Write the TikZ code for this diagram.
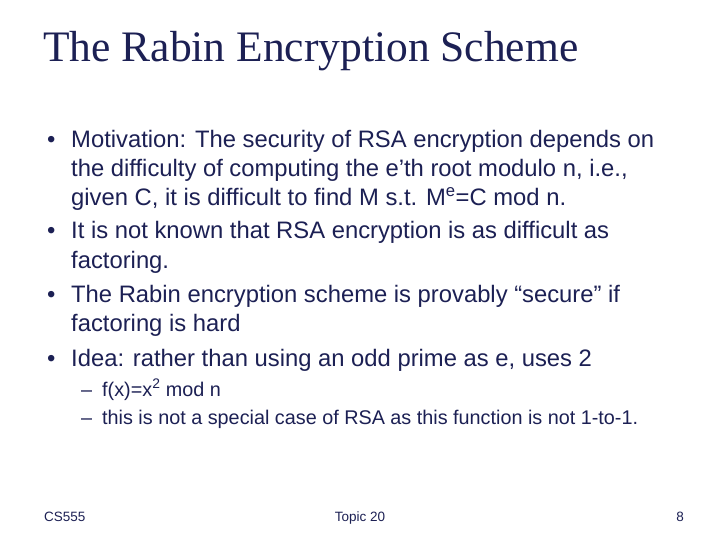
\documentclass[tikz,border=0pt]{standalone}
\usepackage{fontspec}
\setmainfont{Liberation Sans}
\newfontfamily\titlefont{Liberation Serif}
\definecolor{navy}{RGB}{28,32,84}
\begin{document}
\begin{tikzpicture}[x=1pt,y=-1pt,
  ttl/.style={anchor=base west,inner sep=0,text=navy,font=\titlefont\fontsize{43.5}{46}\selectfont},
  body/.style={anchor=base west,inner sep=0,text=navy,font=\fontsize{23.8}{26}\selectfont},
  sub/.style={anchor=base west,inner sep=0,text=navy,font=\fontsize{19.8}{22}\selectfont},
  foot/.style={anchor=base,inner sep=0,text=navy,font=\fontsize{13.5}{15}\selectfont}]
\useasboundingbox[fill=white] (0,0) rectangle (720,540);
\node[ttl] (t) at (43,62) {The Rabin Encryption Scheme};
\foreach \y/\n in {148/b1,239/b2,302/b3,366/b4}
  \node[body] (\n) at (47,\y) {•};
\node[body] (l1) at (71,148) {Motivation: The security of RSA encryption depends on};
\node[body] (l2) at (71,177) {the difficulty of computing the e’th root modulo n, i.e.,};
\node[body] (l3) at (71,206) {given C, it is difficult to find M s.t. M\textsuperscript{e}=C mod n.};
\node[body] (l4) at (71,239) {It is not known that RSA encryption is as difficult as};
\node[body] (l5) at (71,268) {factoring.};
\node[body] (l6) at (71,302) {The Rabin encryption scheme is provably “secure” if};
\node[body] (l7) at (71,331) {factoring is hard};
\node[body] (l8) at (71,366) {Idea: rather than using an odd prime as e, uses 2};
\node[sub] (d1) at (81,396) {–};
\node[sub] (s1) at (102,396) {f(x)=x\textsuperscript{2} mod n};
\node[sub] (d2) at (81,424) {–};
\node[sub] (s2) at (102,424) {this is not a special case of RSA as this function is not 1-to-1.};
\node[foot,anchor=base west] (f1) at (44,521) {CS555};
\node[foot] (f2) at (360,521) {Topic 20};
\node[foot,anchor=base east] (f3) at (684,521) {8};
\end{tikzpicture}
\end{document}
